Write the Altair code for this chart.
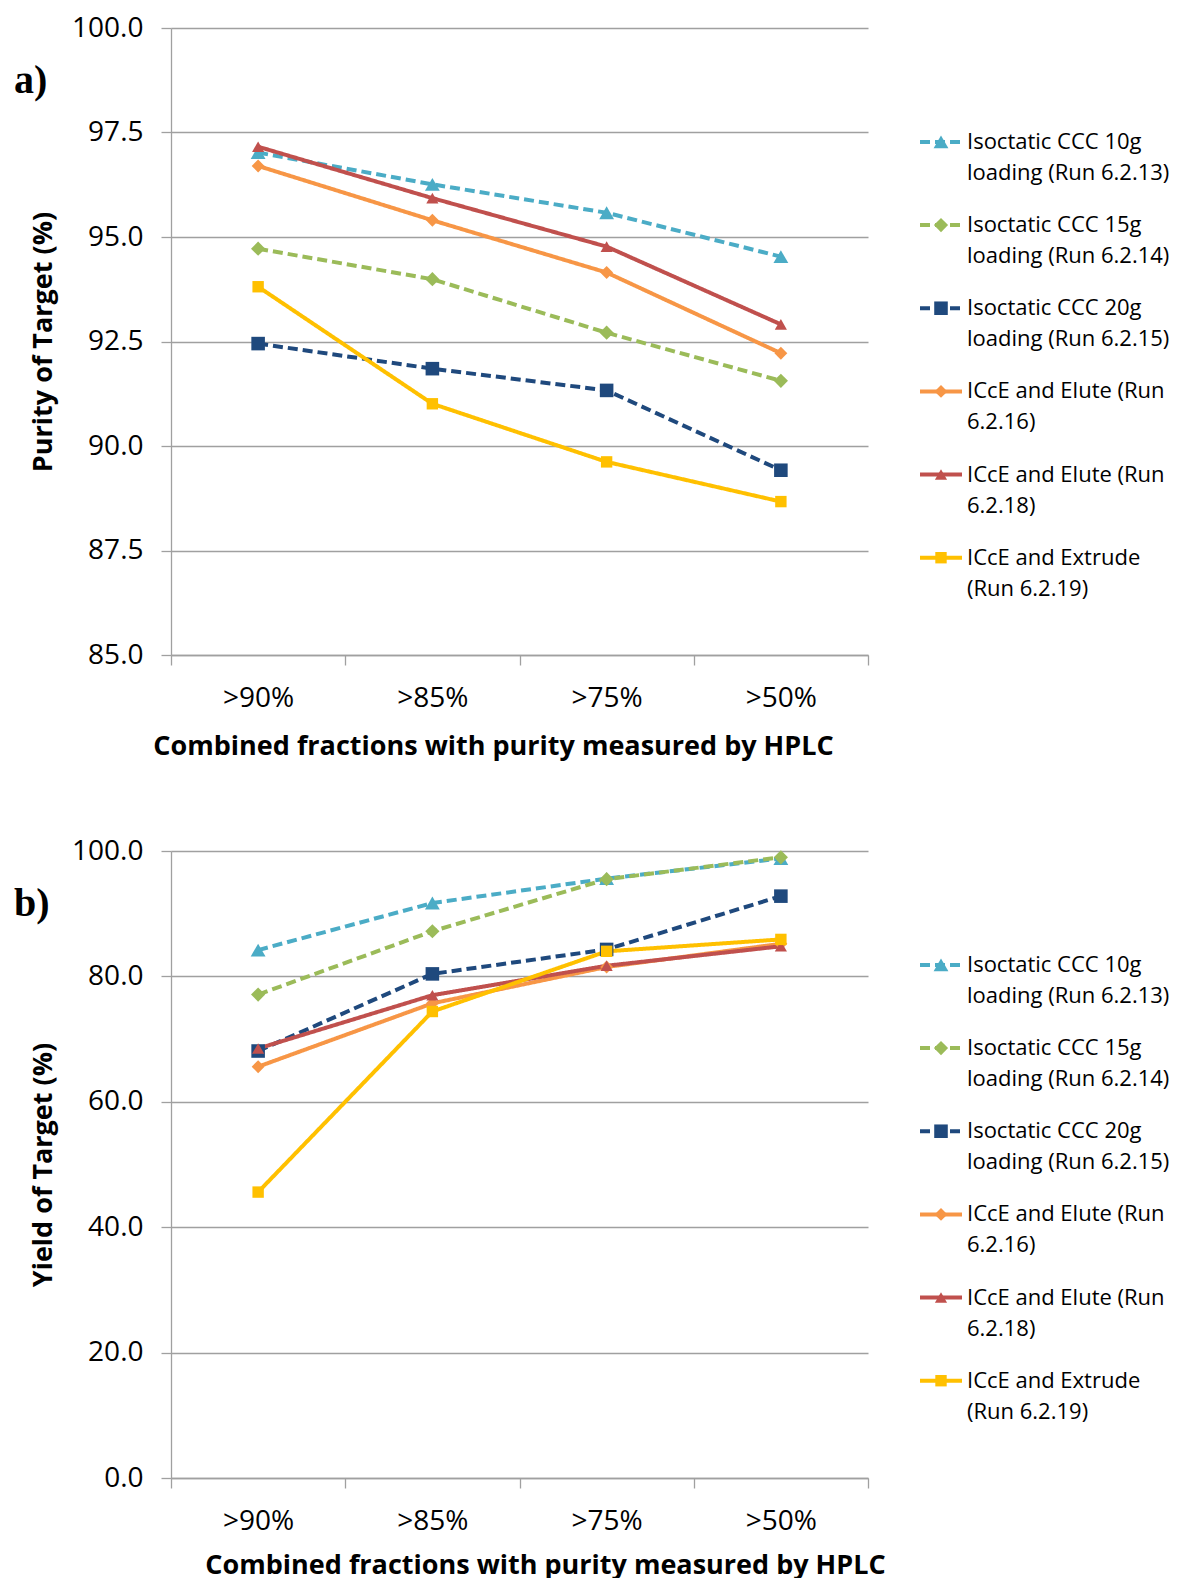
import altair as alt
import pandas as pd

categories = [">90%", ">85%", ">75%", ">50%"]
series = ["CCC10", "CCC15", "CCC20", "E16", "E18", "X19"]
label_line1 = ["Isoctatic CCC 10g", "Isoctatic CCC 15g", "Isoctatic CCC 20g",
               "ICcE and Elute (Run", "ICcE and Elute (Run", "ICcE and Extrude"]
label_line2 = ["loading (Run 6.2.13)", "loading (Run 6.2.14)", "loading (Run 6.2.15)",
               "6.2.16)", "6.2.18)", "(Run 6.2.19)"]
colors = ["#4BACC6", "#9BBB59", "#1F497D", "#F79646", "#C0504D", "#FFC000"]
shapes = ["triangle-up", "diamond", "square", "diamond", "triangle-up", "square"]
sizes = [220, 130, 145, 130, 220, 145]
dashes = [[10, 5], [10, 5], [10, 5], [1, 0], [1, 0], [1, 0]]

purity_ccc10 = [97.02, 96.26, 95.58, 94.53]
purity_ccc15 = [94.72, 93.99, 92.71, 91.56]
purity_ccc20 = [92.45, 91.85, 91.33, 89.42]
purity_e16 = [96.70, 95.40, 94.15, 92.22]
purity_e18 = [97.16, 95.93, 94.77, 92.91]
purity_x19 = [93.81, 91.01, 89.62, 88.67]

yield_ccc10 = [84.2, 91.7, 95.6, 98.8]
yield_ccc15 = [77.1, 87.2, 95.5, 99.0]
yield_ccc20 = [68.1, 80.4, 84.3, 92.8]
yield_e16 = [65.6, 75.7, 81.5, 85.2]
yield_e18 = [68.5, 77.0, 81.7, 84.8]
yield_x19 = [45.6, 74.4, 84.0, 85.9]

purity_ticks = [85.0, 87.5, 90.0, 92.5, 95.0, 97.5, 100.0]
yield_ticks = [0.0, 20.0, 40.0, 60.0, 80.0, 100.0]

purity = [purity_ccc10, purity_ccc15, purity_ccc20, purity_e16, purity_e18, purity_x19]
yields = [yield_ccc10, yield_ccc15, yield_ccc20, yield_e16, yield_e18, yield_x19]


def long_df(values):
    rows = []
    for s, vals in zip(series, values):
        for i, (c, v) in enumerate(zip(categories, vals)):
            rows.append({"series": s, "cat": c, "ci": i, "value": v})
    return pd.DataFrame(rows)


legend_df = pd.DataFrame({"series": series, "idx": list(range(len(series))),
                          "l1": label_line1, "l2": label_line2})

GRID = "#a0a0a0"
TICKFONT = "Open Sans"
TITLEFONT = "Open Sans"
W, H = 697, 627
NOVIEW = alt.ViewBackground(stroke="transparent", strokeWidth=0)

color_enc = alt.Color("series:N", scale=alt.Scale(domain=series, range=colors), legend=None)
dash_enc = alt.StrokeDash("series:N", scale=alt.Scale(domain=series, range=dashes), legend=None)
shape_enc = alt.Shape("series:N", scale=alt.Scale(domain=series, range=shapes), legend=None)
size_enc = alt.Size("series:N", scale=alt.Scale(domain=series, range=sizes), legend=None)


def panel(values, ydomain, yticks, ytitle, tag, title_x, title_pad):
    df = long_df(values)
    x = alt.X("cat:N", sort=categories,
              scale=alt.Scale(type="band", paddingInner=0, paddingOuter=0),
              bandPosition=0.5,
              axis=alt.Axis(title="Combined fractions with purity measured by HPLC",
                            tickBand="extent", labelAngle=0, grid=False,
                            labelFont=TICKFONT, labelFontSize=28, labelColor="#000",
                            labelPadding=19, tickSize=10, tickColor=GRID, tickWidth=1.3,
                            domainColor=GRID, domainWidth=1.3,
                            titleFont=TITLEFONT, titleFontSize=27, titleFontWeight="bold",
                            titleColor="#000", titleX=title_x, titlePadding=title_pad))
    y = alt.Y("value:Q",
              scale=alt.Scale(domain=ydomain, nice=False, zero=False),
              axis=alt.Axis(title=ytitle, values=yticks, format=".1f", grid=True,
                            gridColor=GRID, gridWidth=1.3, tickColor=GRID, tickWidth=1.3,
                            tickSize=10, domainColor=GRID, domainWidth=1.3,
                            labelFont=TICKFONT, labelFontSize=28, labelColor="#000",
                            labelPadding=18,
                            titleFont=TITLEFONT, titleFontSize=27, titleFontWeight="bold",
                            titleColor="#000", titlePadding=14))
    base = alt.Chart(df)
    lines = base.mark_line(strokeWidth=4).encode(
        x=x, y=y, color=color_enc, strokeDash=dash_enc, order=alt.Order("ci:Q"))
    points = base.mark_point(filled=True, opacity=1).encode(
        x=x, y=y, color=color_enc, shape=shape_enc, size=size_enc)
    tag_layer = alt.Chart(pd.DataFrame({"t": [tag]})).mark_text(
        font="Liberation Serif", fontWeight="bold", fontSize=40, align="left",
        baseline="middle", color="#000").encode(
        text="t:N", x=alt.value(-157), y=alt.value(53))
    return alt.layer(lines, points, tag_layer).properties(width=W, height=H, view=NOVIEW)


def legend_panel():
    ysc = alt.Scale(domain=[6.17, -1.37], nice=False, zero=False)
    yenc = alt.Y("idx:Q", scale=ysc, axis=None)
    base = alt.Chart(legend_df)
    rule = base.mark_rule(strokeWidth=4).encode(
        x=alt.value(0), x2=alt.value(42), y=yenc, color=color_enc, strokeDash=dash_enc)
    pts = base.mark_point(filled=True, opacity=1).encode(
        x=alt.value(21), y=yenc, color=color_enc, shape=shape_enc, size=size_enc)
    t1 = base.mark_text(align="left", baseline="middle", font=TICKFONT, fontSize=22,
                        color="#000").encode(x=alt.value(47), y=yenc, text="l1:N")
    t2 = base.mark_text(align="left", baseline="middle", font=TICKFONT, fontSize=22,
                        color="#000", dy=31).encode(x=alt.value(47), y=yenc, text="l2:N")
    return alt.layer(rule, pts, t1, t2).properties(width=42, height=H, view=NOVIEW)


chart = alt.concat(
    panel(purity, [85, 100], purity_ticks, "Purity of Target (%)", "a)", 322, 21),
    legend_panel(),
    panel(yields, [0, 100], yield_ticks, "Yield of Target (%)", "b)", 374, 17),
    legend_panel(),
    columns=2, spacing={"row": 196, "column": 52}, bounds="flush",
).resolve_scale(x="independent", y="independent").properties(
    padding={"left": 6, "top": 6, "right": 0, "bottom": 0}
).configure_view(stroke="transparent", strokeWidth=0).configure(background="white")

chart.save("out.html", embed_options={"renderer": "svg", "actions": False})
